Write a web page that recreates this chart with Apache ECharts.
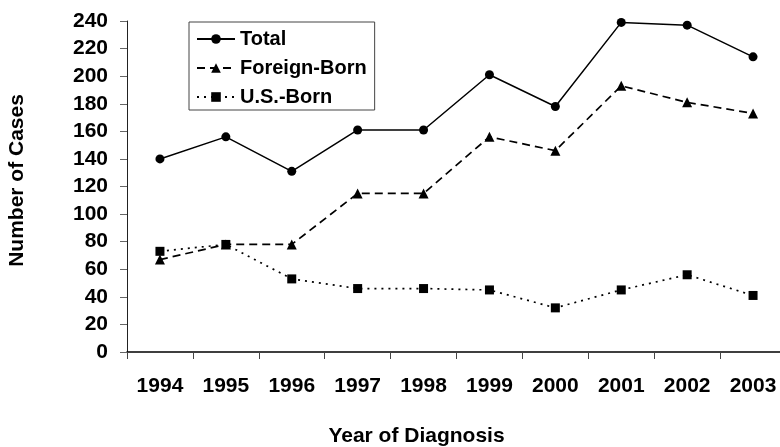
<!DOCTYPE html>
<html>
<head>
<meta charset="utf-8">
<script src="https://cdn.jsdelivr.net/npm/echarts@6/dist/echarts.min.js"></script>
<style>
html,body{margin:0;padding:0;background:#fff;}
#chart{width:780px;height:447px;}
</style>
</head>
<body>
<div id="chart"></div>
<script>
const years = ['1994','1995','1996','1997','1998','1999','2000','2001','2002','2003'];
const total = [140, 156, 131, 161, 161, 201, 178, 239, 237, 214];
const foreignBorn = [67, 78, 78, 115, 115, 156, 146, 193, 181, 173];
const usBorn = [73, 78, 53, 46, 46, 45, 32, 45, 56, 41];
const yTicks = [0, 20, 40, 60, 80, 100, 120, 140, 160, 180, 200, 220, 240];

const FONT = 'Arial, "Liberation Sans", sans-serif';
const chart = echarts.init(document.getElementById('chart'), null, {renderer: 'canvas'});
chart.setOption({
  animation: false,
  backgroundColor: '#fff',
  grid: {left: 127, right: -6, top: 21, bottom: 95, containLabel: false, outerBoundsMode: 'none'},
  legend: {
    orient: 'vertical', left: 189, top: 22,
    padding: [7, 8, 3, 7],
    borderColor: '#444', borderWidth: 1,
    itemWidth: 38, itemHeight: 12, itemGap: 9,
    textStyle: {fontFamily: FONT, fontWeight: 'bold', fontSize: 20, color: '#000', lineHeight: 20},
    data: ['Total', 'Foreign-Born', 'U.S.-Born']
  },
  xAxis: {
    type: 'category', data: years, boundaryGap: true,
    name: 'Year of Diagnosis', nameLocation: 'middle', nameGap: 74,
    nameTextStyle: {fontFamily: FONT, fontWeight: 'bold', fontSize: 21, color: '#000', padding: [0, 80, 0, 0]},
    axisLine: {lineStyle: {color: '#000', width: 1.5}},
    axisTick: {show: true, length: 7, alignWithLabel: false, lineStyle: {color: '#444'}},
    axisLabel: {margin: 24, fontFamily: FONT, fontWeight: 'bold', fontSize: 21, color: '#000', interval: 0},
    splitLine: {show: false}
  },
  yAxis: {
    type: 'value', min: 0, max: 240, interval: 20,
    name: 'Number of Cases', nameLocation: 'middle', nameGap: 99,
    nameTextStyle: {fontFamily: FONT, fontWeight: 'bold', fontSize: 21, color: '#000', padding: [0, 0, 0, 12]},
    axisLine: {show: true, lineStyle: {color: '#222', width: 1}},
    axisTick: {show: true, length: 7, lineStyle: {color: '#666'}},
    axisLabel: {margin: 19, fontFamily: FONT, fontWeight: 'bold', fontSize: 21, color: '#000',
      formatter: v => yTicks.includes(v) ? String(v) : ''},
    splitLine: {show: false}
  },
  series: [
    {name: 'Total', type: 'line', data: total, symbol: 'circle', symbolSize: 9,
      itemStyle: {color: '#000'}, lineStyle: {color: '#000', width: 1.5, type: 'solid'}},
    {name: 'Foreign-Born', type: 'line', data: foreignBorn, symbol: 'triangle', symbolSize: 10,
      itemStyle: {color: '#000'}, lineStyle: {color: '#000', width: 1.7, type: [8, 5]}},
    {name: 'U.S.-Born', type: 'line', data: usBorn, symbol: 'rect', symbolSize: 9,
      itemStyle: {color: '#000'}, lineStyle: {color: '#000', width: 1.7, type: [2, 5]}}
  ]
});
</script>
</body>
</html>
